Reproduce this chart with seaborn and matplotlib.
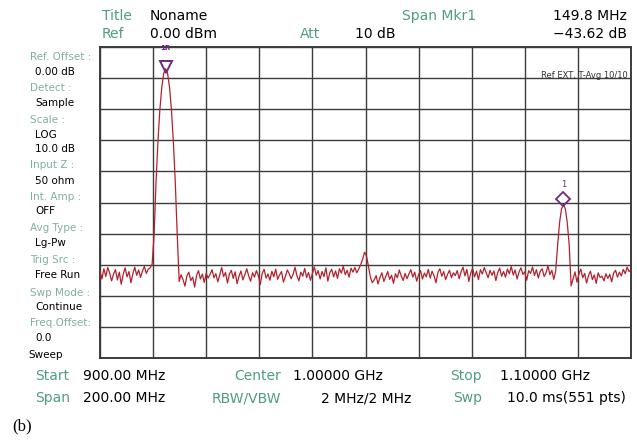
import numpy as np
import pandas as pd
import matplotlib
matplotlib.use("Agg")
import matplotlib.pyplot as plt
import seaborn as sns

start_mhz = 900.0
stop_mhz = 1100.0
trace_db = [
    # 900 MHz .. just before first carrier
    -72.1, -74.6, -71.3, -73.8, -70.9, -72.7, -75.2, -73.0, -71.6, -74.9, -72.4, -76.3, -73.1,
    -71.0, -73.9, -72.2, -75.8, -72.9, -70.8, -73.4, -71.7, -74.1, -72.0, -70.6, -72.8, -71.4,
    -71.0, -69.8,
    # carrier 1
    -60.5, -43.7, -30.5, -20.2, -12.9, -8.5, -7.0, -8.5, -12.9, -20.2, -30.5, -43.7, -60.5,
    # noise
    -75.4, -73.2, -74.8, -76.9, -73.6, -72.4, -75.1, -74.0, -77.2, -73.5, -71.9, -74.6, -73.0,
    -75.7, -72.8, -74.3, -73.1,
    -71.6, -74.2, -72.9, -75.5, -73.4, -70.9, -73.8, -72.5, -75.9, -73.0, -71.8, -74.4, -72.3,
    -76.1, -73.7, -72.0, -74.9, -73.2, -71.3, -73.6, -75.3, -72.6, -74.0, -71.9, -73.5, -76.4,
    -72.8, -71.5, -74.3, -73.0, -75.0, -72.1, -73.9, -71.4, -74.7, -73.3, -72.2, -75.6, -73.8,
    -71.7, -72.9, -74.5, -73.1, -70.8, -73.6, -75.2, -72.4,
    -73.7, -71.2, -74.1, -72.5, -75.0, -72.8, -70.7, -73.4, -71.9, -74.6, -72.2, -73.8, -71.0,
    -75.3, -72.6, -71.5, -73.9, -72.0, -74.4, -71.3, -72.7, -70.5, -73.2, -71.8, -74.0, -71.1,
    -72.4, -70.9, -72.6, -71.4,
    # small spur near 1 GHz
    -70.0, -68.3, -66.0, -67.2, -70.4, -73.9, -75.8,
    # noise
    -74.9, -73.5, -76.2, -74.1, -72.6, -75.4, -73.8, -72.2, -74.7, -73.4, -76.0, -72.9, -74.2,
    -71.7, -73.6, -75.1, -72.8, -74.5, -73.0, -71.6, -74.0, -72.4, -75.3, -73.2, -71.9, -74.6,
    -72.7, -73.9, -71.5, -74.3, -72.1, -73.6, -75.8, -72.5, -71.3, -73.7, -72.2, -74.8, -73.1,
    -71.8, -74.2, -72.6, -73.5,
    -71.9, -74.5, -72.3, -70.8, -73.6, -71.5, -75.4, -72.7, -71.2, -73.9, -72.1, -74.8, -71.6,
    -73.0, -70.9, -72.6, -74.2, -71.8, -73.4, -72.0, -75.1, -72.5, -71.1, -73.7, -72.2, -74.0,
    -71.4, -72.9, -70.6, -73.3, -71.7, -74.6, -72.4, -71.0, -73.1, -72.3, -75.0, -71.9, -72.8,
    -70.7, -73.5, -71.6, -74.3, -72.1, -71.3, -73.8, -72.6, -70.4, -73.2, -71.8, -74.7,
    # carrier 2
    -72.0, -63.8, -56.5, -52.1, -50.6, -52.1, -56.5, -63.8, -76.8,
    # noise to 1.1 GHz
    -74.5, -72.3, -75.6, -73.0, -71.4, -74.2, -72.8, -75.9, -73.5, -72.1, -74.8, -73.3, -76.0,
    -72.6, -74.1, -73.7, -75.2, -72.9, -74.4, -73.1, -75.5, -72.7, -71.8, -74.0, -72.4, -73.6,
    -71.5, -72.9, -70.8, -72.2, -71.6,
]
mkr1r_freq = 924.73     # reference marker (carrier 1)
mkr1r_level = -7.0
mkr1_freq = 1074.55     # delta marker (carrier 2)
mkr1_level = -50.6

header_left = [("Title", "Noname"), ("Ref", "0.00 dBm")]
side_items = [("Ref. Offset :", "0.00 dB"), ("Detect :", "Sample"), ("Scale :", "LOG"),
              (None, "10.0 dB"), ("Input Z :", "50 ohm"), ("Int. Amp :", "OFF"),
              ("Avg Type :", "Lg-Pw"), ("Trig Src :", "Free Run"), ("Swp Mode :", "Continue"),
              ("Freq.Offset:", "0.0")]

freq = np.linspace(start_mhz, stop_mhz, len(trace_db))
df = pd.DataFrame({"freq": freq, "level": trace_db})

# ---- figure ----
sns.set_style("white")
plt.rcParams["font.family"] = ["DejaVu Sans"]
W, H = 637, 441
fig = plt.figure(figsize=(W / 100, H / 100), dpi=100)
fig.patch.set_facecolor("white")

L, R, T, B = 100, 631, 47, 358
ax = fig.add_axes([L / W, 1 - B / H, (R - L) / W, (B - T) / H])

TRACE = "#b3222c"
GRID = "#3c3c3c"
TEAL = "#4f9c86"
TEAL2 = "#80b0a4"
PURPLE = "#6e2a7e"

sns.lineplot(data=df, x="freq", y="level", ax=ax, color=TRACE, linewidth=0.9, zorder=3)
ax.set_xlim(start_mhz, stop_mhz)
ax.set_ylim(-100, 0)
ax.set_xticks(np.linspace(start_mhz, stop_mhz, 11))
ax.set_yticks(np.linspace(-100, 0, 11))
ax.grid(True, color=GRID, linewidth=1.0)
ax.tick_params(length=0, labelbottom=False, labelleft=False)
ax.set_xlabel("")
ax.set_ylabel("")
for s in ax.spines.values():
    s.set_color(GRID)
    s.set_linewidth(1.4)

# markers
ax.plot([mkr1r_freq], [mkr1r_level + 0.7], marker="v", ms=8, mfc="none", mec=PURPLE, mew=1.4,
        zorder=4, clip_on=False)
ax.text(mkr1r_freq, -0.2, "1R", color=PURPLE, fontsize=5, fontweight="bold",
        ha="center", va="center", clip_on=False)
ax.plot([mkr1_freq], [mkr1_level + 1.8], marker="D", ms=7, mfc="none", mec=PURPLE, mew=1.3,
        zorder=4)
ax.text(mkr1_freq, -44.2, "1", color=PURPLE, fontsize=6, ha="center", va="center")

def ftext(x, y, s, **kw):
    fig.text(x / W, 1 - y / H, s, va="center", **kw)

# header
ftext(102, 16, header_left[0][0], color=TEAL, fontsize=10)
ftext(150, 16, header_left[0][1], color="black", fontsize=10)
ftext(102, 34, header_left[1][0], color=TEAL, fontsize=10)
ftext(150, 34, header_left[1][1], color="black", fontsize=10)
ftext(300, 34, "Att", color=TEAL, fontsize=10)
ftext(355, 34, "10 dB", color="black", fontsize=10)
ftext(402, 16, "Span Mkr1", color=TEAL, fontsize=10)
ftext(627, 16, "149.8 MHz", color="black", fontsize=10, ha="right")
ftext(627, 34, "\u221243.62 dB", color="black", fontsize=10, ha="right")
ftext(628, 76, "Ref EXT, T-Avg 10/10", color="#333333", fontsize=6, ha="right")

# side panel
ys = [57, 72, 88, 103, 120, 135, 149, 165, 181, 197, 211, 228, 243, 260, 275, 293, 307, 323, 338]
row = 0
for lab, val in side_items:
    if lab is not None:
        ftext(30, ys[row], lab, color=TEAL2, fontsize=7.5)
        row += 1
    ftext(35, ys[row], val, color="black", fontsize=7.5)
    row += 1
ftext(28, 355, "Sweep", color="black", fontsize=7.5)

# footer
ftext(35, 376, "Start", color=TEAL, fontsize=10)
ftext(83, 376, "900.00 MHz", color="black", fontsize=10)
ftext(35, 398, "Span", color=TEAL, fontsize=10)
ftext(83, 398, "200.00 MHz", color="black", fontsize=10)
ftext(281, 376, "Center", color=TEAL, fontsize=10, ha="right")
ftext(293, 376, "1.00000 GHz", color="black", fontsize=10)
ftext(281, 398, "RBW/VBW", color=TEAL, fontsize=10, ha="right")
ftext(411, 398, "2 MHz/2 MHz", color="black", fontsize=10, ha="right")
ftext(450, 376, "Stop", color=TEAL, fontsize=10)
ftext(500, 376, "1.10000 GHz", color="black", fontsize=10)
ftext(453, 398, "Swp", color=TEAL, fontsize=10)
ftext(507, 398, "10.0 ms(551 pts)", color="black", fontsize=10)
ftext(12, 426, "(b)", color="black", fontsize=12, family=["Liberation Serif", "DejaVu Serif"])

fig.savefig("out.png", dpi=100, facecolor="white")
